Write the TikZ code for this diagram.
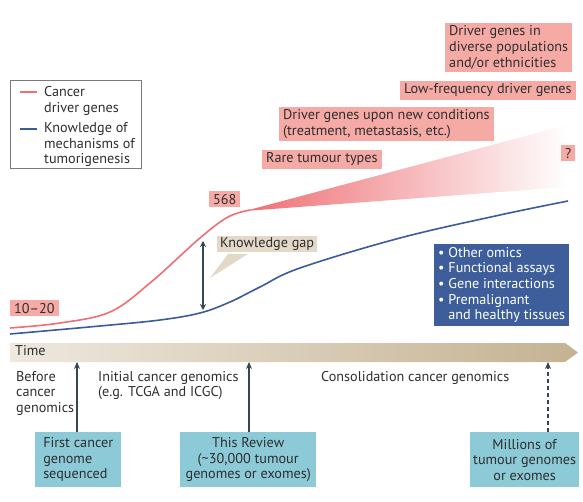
\documentclass[tikz,border=0pt]{standalone}
\usepackage{fontspec}
\setmainfont{PT Sans}
\usetikzlibrary{arrows.meta}
\definecolor{redline}{HTML}{EE6E73}
\definecolor{pinkfill}{HTML}{F5AAA5}
\definecolor{blueline}{HTML}{3B5B9B}
\definecolor{bluefill}{HTML}{3D5E9A}
\definecolor{cyanfill}{HTML}{8CCAD7}
\definecolor{tanfill}{HTML}{E3D9C9}
\definecolor{timel}{HTML}{EEE8DE}
\definecolor{timer}{HTML}{C4B292}
\definecolor{darkarrow}{HTML}{34464F}
\definecolor{txt}{HTML}{2E2E2E}
\definecolor{legendframe}{HTML}{7A7A7A}
\tikzset{
  pinkbox/.style={fill=pinkfill, inner xsep=4pt, inner ysep=2.7pt, anchor=north west, align=left},
  cyanbox/.style={fill=cyanfill, inner xsep=3pt, inner ysep=3pt, anchor=north west, minimum height=55pt},
  plaintext/.style={inner sep=0pt, anchor=north west, align=left},
  uparrow/.style={draw=darkarrow, line width=2pt, -{Stealth[length=7pt,width=6pt]}},
}
\begin{document}
\begin{tikzpicture}[x=1pt,y=-1pt, font=\fontsize{14.2}{15.6}\selectfont, text=txt]
\useasboundingbox (0,0) rectangle (583,502);

% legend
\node[draw=legendframe, line width=0.8pt, minimum width=131pt, minimum height=88pt, anchor=north west, inner sep=0pt] (legend) at (10,80) {};
\draw[redline, line width=2pt] (20,92) coordinate (lr1) -- (37,92) coordinate (lr2);
\draw[blueline, line width=2.5pt] (20,129) coordinate (lb1) -- (37,129) coordinate (lb2);
\node[plaintext] (legcancer) at (44,86.5) {Cancer\\driver genes};
\node[plaintext] (legknow) at (44,122.5) {Knowledge of\\mechanisms of\\tumorigenesis};

% wedge
\begin{scope}
\clip (245,211) -- (567,125) -- (567,187) -- cycle;
\shade[left color=redline, right color=white] (244,120) rectangle (568,215);
\end{scope}

% red curve
\draw[redline, line width=1.6pt] plot[smooth, tension=0.6] coordinates {(10,328) (60,323) (110,312) (150,283) (200,238) (228,217) (250,210)};
% blue curve
\draw[blueline, line width=1.6pt] plot[smooth, tension=0.6] coordinates {(10,334) (100,326) (160,320) (200,313) (230,302) (260,287) (300,268) (400,238) (500,215) (568,201)};

% pink boxes
\node[pinkbox] (diverse) at (445,23) {Driver genes in\\diverse populations\\and/or ethnicities};
\node[pinkbox] (lowfreq) at (400,81) {Low-frequency driver genes};
\node[pinkbox] (newcond) at (279,107) {Driver genes upon new conditions\\(treatment, metastasis, etc.)};
\node[pinkbox] (rare) at (262,150) {Rare tumour types};
\node[pinkbox] (qmark) at (561,145) {?};
\node[pinkbox] (n568) at (209,191) {568};
\node[pinkbox] (n1020) at (10,300) {10--20};

% knowledge gap
\coordinate (gaptop) at (203,241);
\coordinate (gapbot) at (203,310);
\draw[darkarrow, line width=2pt, {Stealth[length=6pt,width=6pt]}-{Stealth[length=6pt,width=6pt]}] (gaptop) -- (gapbot);
\node[fill=tanfill, inner xsep=3pt, inner ysep=1.5pt, anchor=north west] (gap) at (217,236) {Knowledge gap};
\fill[tanfill] (228,254) -- (248,254) -- (210,278) -- cycle;

% blue box
\node[fill=bluefill, text=white, anchor=north west, inner xsep=4pt, inner ysep=3pt, align=left] (omics) at (434,244)
  {\textbullet\ Other omics\\\textbullet\ Functional assays\\\textbullet\ Gene interactions\\\textbullet\ Premalignant\\\phantom{\textbullet\ }and healthy tissues};

% time bar
\shade[left color=timel, right color=timer] (10,343) -- (565,343) -- (578,352.5) -- (565,362) -- (10,362) -- cycle;
\node[plaintext] (time) at (15,345) {Time};

% era labels
\node[plaintext] (before) at (16,371) {Before\\cancer\\genomics};
\node[plaintext] (initial) at (98,371) {Initial cancer genomics\\(e.g. TCGA and ICGC)};
\node[plaintext] (consol) at (321,371) {Consolidation cancer genomics};

% bottom boxes
\node[cyanbox, align=left, minimum width=86pt] (first) at (35,432) {First cancer\\genome\\sequenced};
\node[cyanbox, align=center, minimum width=136pt] (review) at (180,432) {This Review\\(\textasciitilde30,000 tumour\\genomes or exomes)};
\node[cyanbox, align=center, minimum width=108pt] (millions) at (470,432) {Millions of\\tumour genomes\\or exomes};

\coordinate (t1) at (77,362);
\coordinate (t2) at (249,362);
\coordinate (t3) at (548,362);
\draw[uparrow] (first.north -| t1) -- (t1);
\draw[uparrow] (review.north -| t2) -- (t2);
\draw[uparrow, dashed, dash pattern=on 4pt off 3pt] (millions.north -| t3) -- (t3);
\end{tikzpicture}
\end{document}
